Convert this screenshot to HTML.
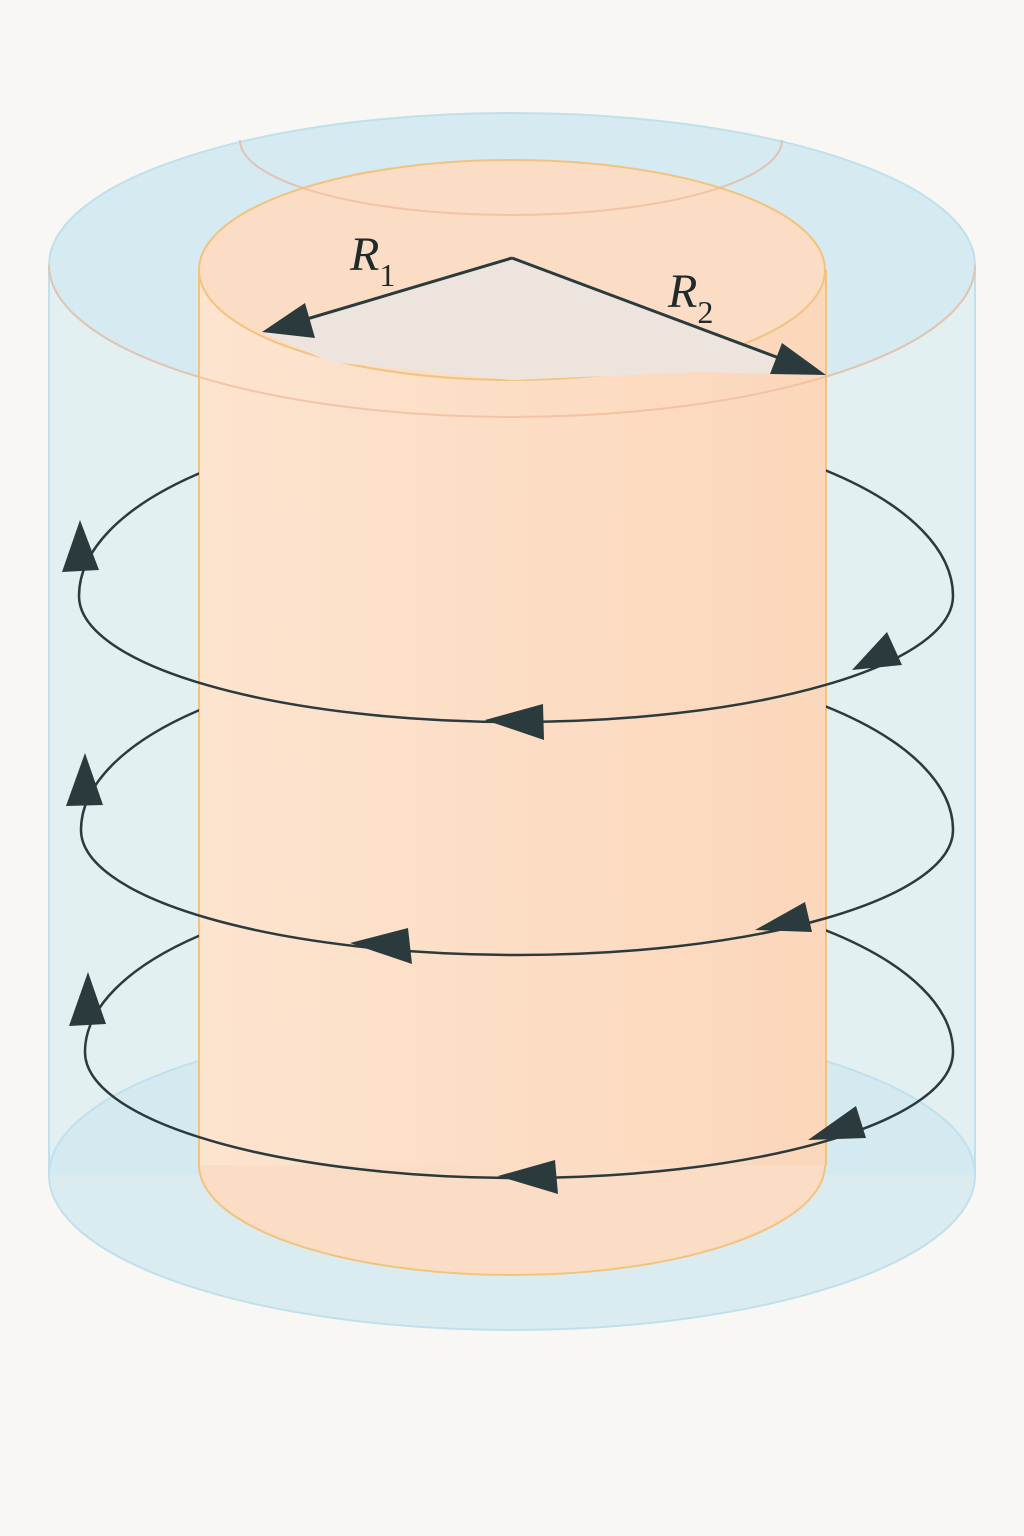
<!DOCTYPE html>
<html><head><meta charset="utf-8"><style>
html,body{margin:0;padding:0;background:#f9f7f3;}
svg{display:block;}
</style></head><body>
<svg width="1024" height="1536" viewBox="0 0 1024 1536">
<defs>
<linearGradient id="og" x1="0" x2="1" y1="0" y2="0">
<stop offset="0" stop-color="#fde4cf"/><stop offset="1" stop-color="#fbd7bb"/>
</linearGradient>
<mask id="m1"><rect width="1024" height="1536" fill="#fff"/><rect x="199" y="0" width="627" height="600" fill="#000"/></mask>
<mask id="m2"><rect width="1024" height="1536" fill="#fff"/><rect x="199" y="0" width="627" height="832" fill="#000"/></mask>
<mask id="m3"><rect width="1024" height="1536" fill="#fff"/><rect x="199" y="0" width="627" height="1054" fill="#000"/></mask>
</defs>
<rect width="1024" height="1536" fill="#f9f7f3"/>
<g>
<rect x="49" y="265" width="926" height="910" fill="#e3f0f2"/>
<ellipse cx="512" cy="1175" rx="463" ry="155" fill="#cfe7f0" fill-opacity="0.7" stroke="#bfe0ec" stroke-width="2"/>
<line x1="49" y1="265" x2="49" y2="1175" stroke="#bfe0ec" stroke-width="2"/>
<line x1="975" y1="265" x2="975" y2="1175" stroke="#bfe0ec" stroke-width="2"/>
<ellipse cx="512" cy="265" rx="463" ry="152" fill="#d6eaf1" stroke="#bfe0ec" stroke-width="2"/>
<path d="M240,140 A271,75 0 0 0 782,140" fill="none" stroke="#bfe0ec" stroke-width="2"/>
</g>
<g>
<ellipse cx="512" cy="1165" rx="313" ry="110" fill="#fbdcc4" stroke="#f3c37e" stroke-width="2"/>
<rect x="199" y="270" width="627" height="895" fill="url(#og)"/>
<line x1="199" y1="270" x2="199" y2="1165" stroke="#f3c37e" stroke-width="2"/>
<line x1="826" y1="270" x2="826" y2="1165" stroke="#f3c37e" stroke-width="2"/>
<ellipse cx="512" cy="270" rx="313" ry="110" fill="#fbdcc4" stroke="#f3c37e" stroke-width="2"/>
<path d="M240,140 A271,75 0 0 0 782,140" fill="none" stroke="#f0b89a" stroke-width="2" opacity="0.7"/>
<path d="M49,265 A463,152 0 0 0 975,265" fill="none" stroke="#f0b89a" stroke-width="2" opacity="0.7"/>
<polygon points="512,258 262,332 330,362 512,380 700,372 826,375" fill="#ede5dd"/>
</g>
<g stroke="#2b3a3d" stroke-width="3" fill="#2b3a3d">
<line x1="512" y1="258" x2="290" y2="324"/>
<polygon points="262,332 305,303 315,338" stroke="none"/>
<line x1="512" y1="258" x2="795" y2="364"/>
<polygon points="826,375 770,374 782,343" stroke="none"/>
</g>
<text x="350" y="270" font-family="Liberation Serif, serif" font-style="italic" font-size="48" fill="#1e2a2c">R<tspan font-style="normal" font-size="32" dy="16">1</tspan></text>
<text x="668" y="307" font-family="Liberation Serif, serif" font-style="italic" font-size="48" fill="#1e2a2c">R<tspan font-style="normal" font-size="32" dy="16">2</tspan></text>
<g fill="none" stroke="#2b3a3d" stroke-width="2.5">
<path d="M79,596 A437,178 0 0 1 953,596 A437,126 0 0 1 79,596" mask="url(#m1)"/>
<path d="M81,830 A436,175 0 0 1 953,830 A436,125 0 0 1 81,830" mask="url(#m2)"/>
<path d="M85,1052 A434,172 0 0 1 953,1052 A434,126 0 0 1 85,1052" mask="url(#m3)"/>
</g>
<g fill="#2b3a3d">
<polygon points="80,520 62,572 99,570"/>
<polygon points="852,670 887,632 902,665"/>
<polygon points="485,720 543,704 544,740"/>
<polygon points="85,753 66,806 103,805"/>
<polygon points="755,930 805,902 812,932"/>
<polygon points="350,943 408,928 412,964"/>
<polygon points="88,972 69,1026 106,1024"/>
<polygon points="808,1140 856,1106 866,1138"/>
<polygon points="498,1176 555,1160 558,1194"/>
</g>
</svg>
</body></html>
